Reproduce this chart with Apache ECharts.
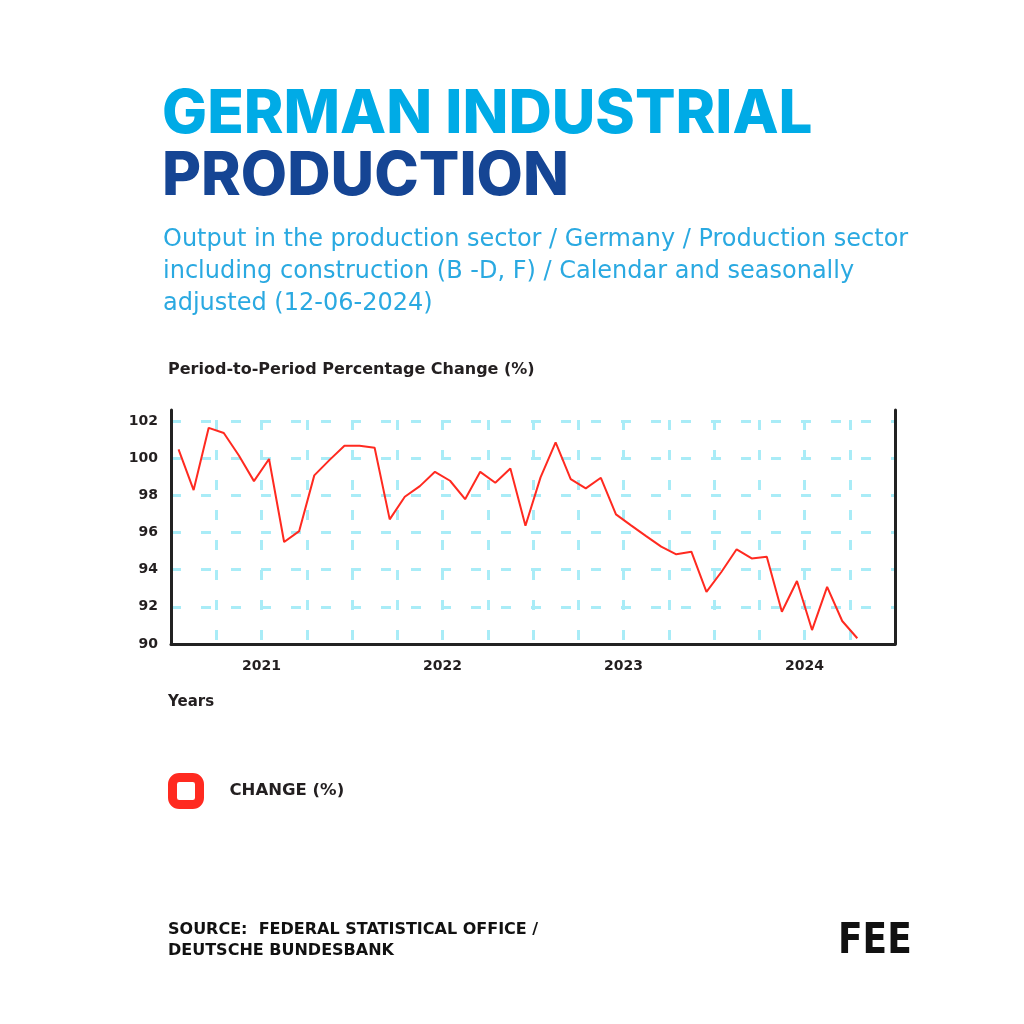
<!DOCTYPE html>
<html>
<head>
<meta charset="utf-8">
<style>
html,body{margin:0;padding:0;background:#fff;}
#chart{width:1024px;height:1024px;}
</style>
<script src="https://cdn.jsdelivr.net/npm/echarts@6/dist/echarts.min.js"></script>
</head>
<body>
<div id="chart"></div>
<script>
// Months from Jul 2020 to Apr 2024
const months = [
  '2020-07','2020-08','2020-09','2020-10','2020-11','2020-12',
  '2021-01','2021-02','2021-03','2021-04','2021-05','2021-06','2021-07','2021-08','2021-09','2021-10','2021-11','2021-12',
  '2022-01','2022-02','2022-03','2022-04','2022-05','2022-06','2022-07','2022-08','2022-09','2022-10','2022-11','2022-12',
  '2023-01','2023-02','2023-03','2023-04','2023-05','2023-06','2023-07','2023-08','2023-09','2023-10','2023-11','2023-12',
  '2024-01','2024-02','2024-03','2024-04'
];
const changeValues = [
  100.48, 98.29, 101.64, 101.36, 100.15, 98.77,
  99.96, 95.49, 96.08, 99.08, 99.9, 100.67, 100.67, 100.57, 96.71, 97.93, 98.5, 99.27,
  98.79, 97.80, 99.27, 98.68, 99.45, 96.37, 98.97, 100.86, 98.88, 98.38, 98.95, 96.98,
  96.39, 95.81, 95.24, 94.83, 94.97, 92.81, 93.89, 95.10, 94.61, 94.70, 91.74, 93.39,
  90.75, 93.08, 91.24, 90.31
];
const yearTicks = ['2021','2022','2023','2024'];
const yTickLabels = [90, 92, 94, 96, 98, 100, 102];

// axis runs in months since 2020-07-01; each monthly point sits mid-month
const startYear = 2020, startMonth = 7;
function monthIndex(s){
  const [y,m] = s.split('-').map(Number);
  return (y - startYear) * 12 + (m - startMonth);
}
const seriesData = months.map((m,i) => [monthIndex(m) + 0.5, changeValues[i]]);
const yearPos = {};
yearTicks.forEach(y => { yearPos[monthIndex(y + '-01')] = y; });

const gridColor = '#a9ecf7';
const axisColor = '#222222';

const chart = echarts.init(document.getElementById('chart'), null, {renderer:'canvas'});
chart.setOption({
  backgroundColor:'#ffffff',
  animation:false,
  grid:{left:171, right:129, top:410, bottom:380, containLabel:false},
  xAxis:{
    type:'value', min:0, max:48, interval:3,
    axisLine:{show:true, onZero:false, lineStyle:{color:axisColor, width:3}},
    axisTick:{show:false},
    axisLabel:{
      margin:15, color:'#231f20', fontFamily:'DejaVu Sans', fontWeight:'bold', fontSize:14,
      formatter: v => yearPos[v] || ''
    },
    splitLine:{show:true, showMinLine:false, showMaxLine:false,
      lineStyle:{color:gridColor, width:3, type:[10,20], dashOffset:20}}
  },
  yAxis:[{
    type:'value', min:90, max:102.6, interval:2,
    axisLine:{show:true, lineStyle:{color:axisColor, width:3}},
    axisTick:{show:false},
    axisLabel:{
      margin:13, color:'#231f20', fontFamily:'DejaVu Sans', fontWeight:'bold', fontSize:14,
      showMaxLabel:false,
      formatter: v => (yTickLabels.indexOf(v) >= 0 ? String(v) : '')
    },
    splitLine:{show:true, showMinLine:false, showMaxLine:false,
      lineStyle:{color:gridColor, width:3, type:[10,20]}}
  },{
    type:'value', min:90, max:102.6, interval:2, position:'right',
    axisLine:{show:true, lineStyle:{color:axisColor, width:3}},
    axisTick:{show:false}, axisLabel:{show:false}, splitLine:{show:false}
  }],
  legend:{
    show:true, left:163, top:768, orient:'horizontal',
    icon:'roundRect', itemWidth:27, itemHeight:27,
    itemStyle:{color:'#ffffff', borderColor:'#ff2a20', borderWidth:9},
    textStyle:{color:'#231f20', fontFamily:'DejaVu Sans', fontWeight:'bold', fontSize:16.5, padding:[0,0,0,25]},
    data:[{name:'CHANGE (%)'}]
  },
  series:[{
    name:'CHANGE (%)', type:'line', data:seriesData,
    showSymbol:false, symbol:'none',
    lineStyle:{color:'#ff2a20', width:2},
    itemStyle:{color:'#ff2a20'}
  }],
  graphic:[
    {type:'text', left:162, top:85, style:{text:'GERMAN INDUSTRIAL', fill:'#00abe6', font:'800 60px Inter'}},
    {type:'text', left:162, top:147, style:{text:'PRODUCTION', fill:'#154594', font:'800 60px Inter'}},
    {type:'text', left:163, top:224, style:{text:'Output in the production sector / Germany / Production sector\nincluding construction (B -D, F) / Calendar and seasonally\nadjusted (12-06-2024)', fill:'#2aa9e1', font:'24px "DejaVu Sans"', lineHeight:32}},
    {type:'text', left:168, top:362, style:{text:'Period-to-Period Percentage Change (%)', fill:'#231f20', font:'bold 16px "DejaVu Sans"'}},
    {type:'text', left:168, top:695, style:{text:'Years', fill:'#231f20', font:'bold 15px "DejaVu Sans"'}},
    {type:'text', left:168, top:919, style:{text:'SOURCE:  FEDERAL STATISTICAL OFFICE /\nDEUTSCHE BUNDESBANK', fill:'#111111', font:'bold 16px "DejaVu Sans"', lineHeight:21}},
    {type:'text', x:838, y:920, scaleX:0.93, style:{text:'FEE', fill:'#111111', font:'bold 43px "DejaVu Sans Condensed"'}}
  ]
});
</script>
</body>
</html>
